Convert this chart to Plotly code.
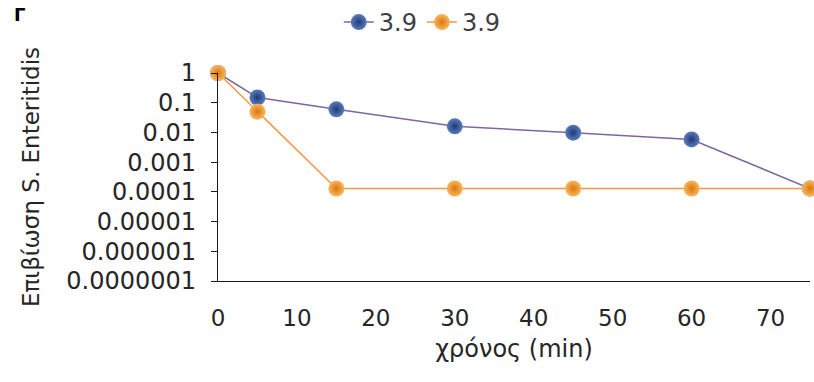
import plotly.graph_objects as go

# Survival of S. Enteritidis over time (two series at 3.9)
time_blue = [0, 5, 15, 30, 45, 60, 75]
surv_blue = [1, 0.15, 0.06, 0.016, 0.0098, 0.0058, 0.00013]
time_orange = [0, 5, 15, 30, 45, 60, 75]
surv_orange = [1, 0.05, 0.00013, 0.00013, 0.00013, 0.00013, 0.00013]
series_names = ["3.9", "3.9"]

y_tickvals = [1, 0.1, 0.01, 0.001, 0.0001, 0.00001, 0.000001, 0.0000001]
y_ticktext = ["1", "0.1", "0.01", "0.001", "0.0001", "0.00001", "0.000001", "0.0000001"]
x_tickvals = [0, 10, 20, 30, 40, 50, 60, 70]

FONT = "DejaVu Sans"
TXT = "#262626"

fig = go.Figure()
fig.add_trace(go.Scatter(
    x=time_blue, y=surv_blue, name=series_names[0], mode="lines+markers",
    line=dict(color="#8064A2", width=1.5),
    marker=dict(size=16, color="#5a7cc0",
                gradient=dict(type="radial", color="#1f3a72"),
                line=dict(width=0)),
    cliponaxis=False,
))
fig.add_trace(go.Scatter(
    x=time_orange, y=surv_orange, name=series_names[1], mode="lines+markers",
    line=dict(color="#F79646", width=1.5),
    marker=dict(size=16, color="#fbb65a",
                gradient=dict(type="radial", color="#d97810"),
                line=dict(width=0)),
    cliponaxis=False,
))

fig.update_layout(
    width=814, height=382,
    margin=dict(l=218, r=4, t=73, b=101),
    paper_bgcolor="white", plot_bgcolor="white",
    font=dict(family=FONT, color=TXT, size=23),
    showlegend=True,
    legend=dict(orientation="h", x=0.345, xanchor="center", y=1.0, yanchor="top",
                yref="container", font=dict(size=24, color="#404040"),
                itemwidth=30, tracegroupgap=0, bgcolor="rgba(0,0,0,0)"),
    xaxis=dict(range=[0, 75], tickvals=x_tickvals, showgrid=False, zeroline=False,
               showline=True, linecolor="#1a1a1a", linewidth=1.3, ticks="",
               tickfont=dict(size=23), ticklabelstandoff=16,
               title=dict(text="χρόνος (min)", font=dict(size=24), standoff=10)),
    yaxis=dict(type="log", range=[-7, 0], tickvals=y_tickvals, ticktext=y_ticktext,
               showgrid=False, zeroline=False, showline=True, linecolor="#1a1a1a",
               linewidth=1.3, ticks="outside", ticklen=6, tickcolor="#1a1a1a",
               tickfont=dict(size=24), ticklabelstandoff=10,
               title=dict(text="Επιβίωση S. Enteritidis", font=dict(size=23), standoff=20)),
    annotations=[dict(text="<b>Γ</b>", xref="paper", yref="paper", x=-206/592, y=1.28,
                      xanchor="left", yanchor="middle", showarrow=False,
                      font=dict(size=18, color="black"))],
)

fig.write_html("out.html")
